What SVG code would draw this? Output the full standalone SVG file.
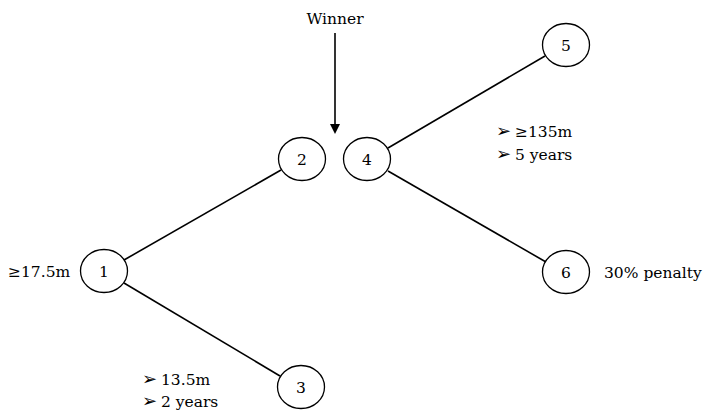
<svg xmlns="http://www.w3.org/2000/svg" width="707" height="412" viewBox="0 0 707 412">
<style>
.n ellipse{fill:#fff;stroke:#000;stroke-width:1.3}
.t{font-family:'DejaVu Serif',serif;font-size:15.5px;fill:#000}
.c{text-anchor:middle}
.b{font-family:'DejaVu Sans',sans-serif;font-size:18px}
.e line{stroke:#000;stroke-width:1.6}
</style>
<defs>
<marker id="ah" markerWidth="10" markerHeight="10" refX="8" refY="5" orient="auto" markerUnits="userSpaceOnUse">
<path d="M0,0 L10,5 L0,10 Z" fill="#000"/>
</marker>
</defs>
<rect width="707" height="412" fill="#fff"/>
<g class="e" id="connectors">
<line x1="124" y1="260" x2="281" y2="170"/>
<line x1="124" y1="283" x2="280" y2="376"/>
<line x1="388" y1="148" x2="545" y2="56"/>
<line x1="388" y1="171" x2="546" y2="262"/>
<line x1="335" y1="33" x2="335" y2="132" marker-end="url(#ah)"/>
</g>
<g class="n t" id="node1"><ellipse cx="104" cy="271" rx="23.5" ry="21.5"/><text class="c" x="104" y="277">1</text></g>
<g class="n t" id="node2"><ellipse cx="302" cy="159" rx="23.5" ry="21.5"/><text class="c" x="302" y="165">2</text></g>
<g class="n t" id="node3"><ellipse cx="301" cy="387" rx="23.5" ry="21.5"/><text class="c" x="301" y="393">3</text></g>
<g class="n t" id="node4"><ellipse cx="367" cy="159" rx="23.5" ry="21.5"/><text class="c" x="367" y="165">4</text></g>
<g class="n t" id="node5"><ellipse cx="566" cy="45" rx="23.5" ry="21.5"/><text class="c" x="566" y="51">5</text></g>
<g class="n t" id="node6"><ellipse cx="566" cy="272" rx="23.5" ry="21.5"/><text class="c" x="566" y="278">6</text></g>
<g id="labels" class="t">
<text class="c" x="335" y="24">Winner</text>
<text x="8" y="277">≥17.5m</text>
<text x="604" y="278">30% penalty</text>
<text x="496" y="137"><tspan class="b">➢</tspan><tspan x="515">≥135m</tspan></text>
<text x="496" y="160"><tspan class="b">➢</tspan><tspan x="515">5 years</tspan></text>
<text x="142" y="385"><tspan class="b">➢</tspan><tspan x="161">13.5m</tspan></text>
<text x="142" y="407"><tspan class="b">➢</tspan><tspan x="161">2 years</tspan></text>
</g>
</svg>
